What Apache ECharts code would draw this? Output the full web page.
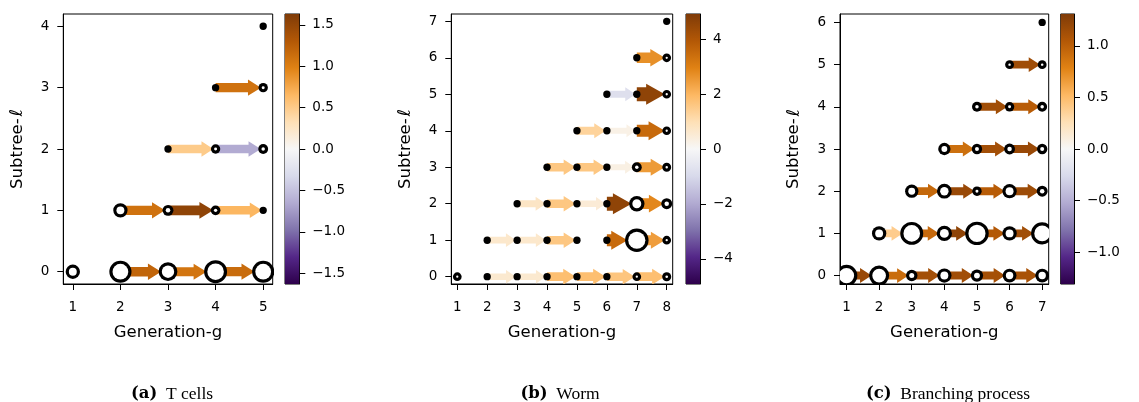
<!DOCTYPE html>
<html>
<head>
<meta charset="utf-8">
<script src="https://cdn.jsdelivr.net/npm/echarts@6/dist/echarts.min.js"></script>
<style>
  html, body { margin: 0; padding: 0; background: #ffffff; }
  #chart { width: 1139px; height: 402px; }
</style>
</head>
<body>
<div id="chart"></div>
<script>
// Diverging colormap (PuOr reversed): purple for negative, brown for positive.
const puorStops = ['#2d004b', '#542788', '#8073ac', '#b2abd2', '#d8daeb', '#f7f7f7',
                   '#fee0b6', '#fdb863', '#e08214', '#b35806', '#7f3b08'];

// ---------- (a) T cells ----------
const tcellGenerations = [1, 2, 3, 4, 5];
const tcellLevels = [0, 1, 2, 3, 4];
// nodes: [generation, subtree level, node weight 0..1]
const tcellNodes = [
  [1, 0, 0.43], [2, 0, 0.89], [3, 0, 0.69], [4, 0, 0.94], [5, 0, 0.89],
  [2, 1, 0.43], [3, 1, 0.23], [4, 1, 0.16], [5, 1, 0.02],
  [3, 2, 0.02], [4, 2, 0.14], [5, 2, 0.17],
  [4, 3, 0.02], [5, 3, 0.14],
  [5, 4, 0.02]
];
// transitions generation g -> g+1 within a level: [g, level, value]
const tcellEdges = [
  [2, 0, 1.20], [3, 0, 1.08], [4, 0, 1.15],
  [2, 1, 1.10], [3, 1, 1.53], [4, 1, 0.66],
  [3, 2, 0.50], [4, 2, -0.65],
  [4, 3, 1.10]
];
const tcellColorLimit = 1.63;
const tcellColorTicks = [-1.5, -1.0, -0.5, 0, 0.5, 1.0, 1.5];

// ---------- (b) Worm ----------
const wormGenerations = [1, 2, 3, 4, 5, 6, 7, 8];
const wormLevels = [0, 1, 2, 3, 4, 5, 6, 7];
const wormNodes = [
  [1, 0, 0.10], [2, 0, 0.02], [3, 0, 0.02], [4, 0, 0.02], [5, 0, 0.02], [6, 0, 0.02], [7, 0, 0.10], [8, 0, 0.12],
  [2, 1, 0.02], [3, 1, 0.02], [4, 1, 0.02], [5, 1, 0.02], [6, 1, 0.02], [7, 1, 0.97], [8, 1, 0.10],
  [3, 2, 0.02], [4, 2, 0.02], [5, 2, 0.02], [6, 2, 0.02], [7, 2, 0.49], [8, 2, 0.23],
  [4, 3, 0.02], [5, 3, 0.02], [6, 3, 0.02], [7, 3, 0.17], [8, 3, 0.11],
  [5, 4, 0.02], [6, 4, 0.02], [7, 4, 0.02], [8, 4, 0.10],
  [6, 5, 0.02], [7, 5, 0.02], [8, 5, 0.10],
  [7, 6, 0.02], [8, 6, 0.10],
  [8, 7, 0.02]
];
const wormEdges = [
  [2, 0, 0.60], [3, 0, 0.60], [4, 0, 1.80], [5, 0, 1.80], [6, 0, 1.65], [7, 0, 1.80],
  [2, 1, 0.65], [3, 1, 0.65], [4, 1, 1.60], [6, 1, 3.50], [7, 1, 2.45],
  [3, 2, 0.75], [4, 2, 1.60], [5, 2, 0.50], [6, 2, 4.60], [7, 2, 2.85],
  [4, 3, 1.60], [5, 3, 1.60], [6, 3, 0.30], [7, 3, 2.50],
  [5, 4, 1.30], [6, 4, 0.25], [7, 4, 3.50],
  [6, 5, -0.80], [7, 5, 4.60],
  [7, 6, 2.70]
];
const wormColorLimit = 4.91;
const wormColorTicks = [-4, -2, 0, 2, 4];

// ---------- (c) Branching process ----------
const branchGenerations = [1, 2, 3, 4, 5, 6, 7];
const branchLevels = [0, 1, 2, 3, 4, 5, 6];
const branchNodes = [
  [1, 0, 0.86], [2, 0, 0.77], [3, 0, 0.26], [4, 0, 0.43], [5, 0, 0.31], [6, 0, 0.40], [7, 0, 0.40],
  [2, 1, 0.43], [3, 1, 0.94], [4, 1, 0.49], [5, 1, 0.97], [6, 1, 0.43], [7, 1, 0.89],
  [3, 2, 0.37], [4, 2, 0.46], [5, 2, 0.14], [6, 2, 0.43], [7, 2, 0.23],
  [4, 3, 0.31], [5, 3, 0.20], [6, 3, 0.23], [7, 3, 0.20],
  [5, 4, 0.17], [6, 4, 0.14], [7, 4, 0.17],
  [6, 5, 0.11], [7, 5, 0.11],
  [7, 6, 0.02]
];
const branchEdges = [
  [1, 0, 1.18], [2, 0, 0.92], [3, 0, 1.13], [4, 0, 1.14], [5, 0, 1.12], [6, 0, 1.10],
  [2, 1, 0.39], [3, 1, 0.94], [4, 1, 1.23], [5, 1, 1.05], [6, 1, 1.14],
  [3, 2, 0.95], [4, 2, 1.18], [5, 2, 1.02], [6, 2, 1.16],
  [4, 3, 0.90], [5, 3, 1.13], [6, 3, 1.18],
  [5, 4, 1.14], [6, 4, 1.02],
  [6, 5, 1.15]
];
const branchColorLimit = 1.31;
const branchColorTicks = [-1.0, -0.5, 0, 0.5, 1.0];

// ---------- drawing ----------
const FONT = 'DejaVu Sans';
const stopRgb = puorStops.map(h => [parseInt(h.slice(1, 3), 16), parseInt(h.slice(3, 5), 16), parseInt(h.slice(5, 7), 16)]);
function colormap(t) {
  t = Math.max(0, Math.min(1, t));
  const s = t * (stopRgb.length - 1);
  const i = Math.min(Math.floor(s), stopRgb.length - 2);
  const f = s - i;
  const a = stopRgb[i], b = stopRgb[i + 1];
  return 'rgb(' + a.map((c, k) => Math.round(c + (b[k] - c) * f)).join(',') + ')';
}
function nodeDiameter(w) { return 7 + 17 * w; }
const RING = 3.2;

function fmtTick(v, dec) {
  const s = Math.abs(v).toFixed(dec);
  return (v < 0 ? '\u2212' : '') + s;
}

const panels = [
  { nodes: tcellNodes, edges: tcellEdges, lim: tcellColorLimit, gens: tcellGenerations, levels: tcellLevels,
    cbTicks: tcellColorTicks, cbDec: 1, left: 63.3, width: 209.4, cbLeft: 285, cbWidth: 14.3,
    shaftBase: 7.5, shaftGain: 2.5, caption: '(a)', title: 'T cells', capX: 172 },
  { nodes: wormNodes, edges: wormEdges, lim: wormColorLimit, gens: wormGenerations, levels: wormLevels,
    cbTicks: wormColorTicks, cbDec: 0, left: 451.3, width: 221.4, cbLeft: 686, cbWidth: 14,
    shaftBase: 5.5, shaftGain: 9, caption: '(b)', title: 'Worm', capX: 560 },
  { nodes: branchNodes, edges: branchEdges, lim: branchColorLimit, gens: branchGenerations, levels: branchLevels,
    cbTicks: branchColorTicks, cbDec: 1, left: 840, width: 208.7, cbLeft: 1060.7, cbWidth: 13.3,
    shaftBase: 7.5, shaftGain: 0.5, caption: '(c)', title: 'Branching process', capX: 948 }
];

const TOP = 14, HEIGHT = 270;
const grid = [], xAxis = [], yAxis = [], series = [], graphic = [];

panels.forEach((P, i) => {
  const gMain = grid.length;
  grid.push({ left: P.left, top: TOP, width: P.width, height: HEIGHT, containLabel: false,
              outerBoundsMode: 'none', show: true, borderColor: '#000', borderWidth: 1, backgroundColor: 'transparent' });
  const gBar = grid.length;
  grid.push({ left: P.cbLeft, top: TOP, width: P.cbWidth, height: HEIGHT, containLabel: false,
              outerBoundsMode: 'none', show: true, borderColor: '#000', borderWidth: 1, backgroundColor: 'transparent' });

  const xMax = P.gens[P.gens.length - 1];
  const yMax = P.levels[P.levels.length - 1];
  const tickStyle = { show: true, length: 6, lineStyle: { color: '#000', width: 1 } };
  const labelStyle = { color: '#000', fontFamily: FONT, fontSize: 13.5, margin: 13 };

  xAxis.push({
    type: 'value', gridIndex: gMain, min: P.gens[0] - 0.2, max: xMax + 0.2,
    axisLine: { show: true, onZero: false, lineStyle: { color: '#000', width: 1 } },
    axisTick: Object.assign({ customValues: P.gens }, tickStyle),
    axisLabel: Object.assign({ customValues: P.gens, formatter: v => String(v) }, labelStyle, { margin: 16 }),
    splitLine: { show: false },
    name: 'Generation-g', nameLocation: 'middle', nameGap: 40,
    nameTextStyle: { color: '#000', fontFamily: FONT, fontSize: 16.5 }
  });
  yAxis.push({
    type: 'value', gridIndex: gMain, min: -0.2, max: yMax + 0.2,
    axisLine: { show: true, onZero: false, lineStyle: { color: '#000', width: 1 } },
    axisTick: Object.assign({ customValues: P.levels }, tickStyle),
    axisLabel: Object.assign({ customValues: P.levels, formatter: v => String(v) }, labelStyle, { margin: 14 }),
    splitLine: { show: false },
    name: 'Subtree-{i|\u2113}', nameLocation: 'middle', nameGap: 37,
    nameTextStyle: { color: '#000', fontFamily: FONT, fontSize: 16.5,
                     rich: { i: { fontStyle: 'italic', fontFamily: FONT, fontSize: 17.5, color: '#000', padding: [0, 0, 0, 2] } } }
  });
  // colorbar axes
  xAxis.push({ type: 'value', gridIndex: gBar, min: 0, max: 1, show: false });
  yAxis.push({
    type: 'value', gridIndex: gBar, position: 'right', min: -P.lim, max: P.lim,
    axisLine: { show: true, onZero: false, lineStyle: { color: '#000', width: 1 } },
    axisTick: Object.assign({ customValues: P.cbTicks }, tickStyle),
    axisLabel: Object.assign({ customValues: P.cbTicks, formatter: v => fmtTick(v, P.cbDec) }, labelStyle),
    splitLine: { show: false }
  });

  const weightAt = {};
  P.nodes.forEach(n => { weightAt[n[0] + ',' + n[1]] = n[2]; });

  // arrows between consecutive generations
  series.push({
    type: 'custom', xAxisIndex: gMain, yAxisIndex: gMain, clip: true, z: 2, silent: true,
    dimensions: ['g', 'l', 'v'], encode: { x: 0, y: 1 },
    data: P.edges,
    renderItem: (params, api) => {
      const g = api.value(0), l = api.value(1), v = api.value(2);
      const p0 = api.coord([g, l]);
      const p1 = api.coord([g + 1, l]);
      const tw = weightAt[(g + 1) + ',' + l] || 0;
      const rT = nodeDiameter(tw) / 2;
      const sw = P.shaftBase + P.shaftGain * Math.abs(v) / P.lim;
      const hw = sw + 7;
      const xs = p0[0], xt = p1[0] - rT + 2.5, y = p0[1];
      const hl = Math.min(1.2 * sw + 2, 0.85 * (xt - xs));
      const xh = xt - hl;
      return {
        type: 'polygon',
        shape: { points: [[xs, y - sw / 2], [xh, y - sw / 2], [xh, y - hw / 2], [xt, y],
                          [xh, y + hw / 2], [xh, y + sw / 2], [xs, y + sw / 2]] },
        style: { fill: colormap((v + P.lim) / (2 * P.lim)) }
      };
    }
  });
  // nodes: black disc with white core
  series.push({
    type: 'custom', xAxisIndex: gMain, yAxisIndex: gMain, clip: true, z: 3, silent: true,
    dimensions: ['g', 'l', 'w'], encode: { x: 0, y: 1 },
    data: P.nodes,
    renderItem: (params, api) => {
      const p = api.coord([api.value(0), api.value(1)]);
      const D = nodeDiameter(api.value(2));
      const children = [{ type: 'circle', shape: { cx: p[0], cy: p[1], r: D / 2 }, style: { fill: '#000' } }];
      const ri = D / 2 - RING;
      if (ri > 0.8) children.push({ type: 'circle', shape: { cx: p[0], cy: p[1], r: ri }, style: { fill: '#fff' } });
      return { type: 'group', children };
    }
  });
  // colorbar
  series.push({
    type: 'custom', xAxisIndex: gBar, yAxisIndex: gBar, z: 1, silent: true,
    dimensions: ['x', 'y'], encode: { x: 0, y: 1 },
    data: [[0, 0]],
    renderItem: (params, api) => {
      const tl = api.coord([0, P.lim]);
      const br = api.coord([1, -P.lim]);
      const stops = puorStops.slice().reverse().map((c, k) => ({ offset: k / (puorStops.length - 1), color: c }));
      return {
        type: 'rect',
        shape: { x: tl[0], y: tl[1], width: br[0] - tl[0], height: br[1] - tl[1] },
        style: { fill: { type: 'linear', x: 0, y: 0, x2: 0, y2: 1, colorStops: stops } }
      };
    }
  });

  graphic.push({
    type: 'text', x: P.capX, y: 394, silent: true,
    style: {
      text: '{b|' + P.caption + '}  ' + P.title,
      x: 0, y: 0, align: 'center', verticalAlign: 'middle',
      font: '17.5px "Liberation Serif"', fill: '#000',
      rich: { b: { fontWeight: 'bold', fontFamily: 'DejaVu Serif', fontSize: 16.5, fill: '#000' } }
    }
  });
});

const chart = echarts.init(document.getElementById('chart'), null, { renderer: 'canvas' });
chart.setOption({
  animation: false,
  backgroundColor: '#ffffff',
  grid, xAxis, yAxis, series, graphic
});
</script>
</body>
</html>
